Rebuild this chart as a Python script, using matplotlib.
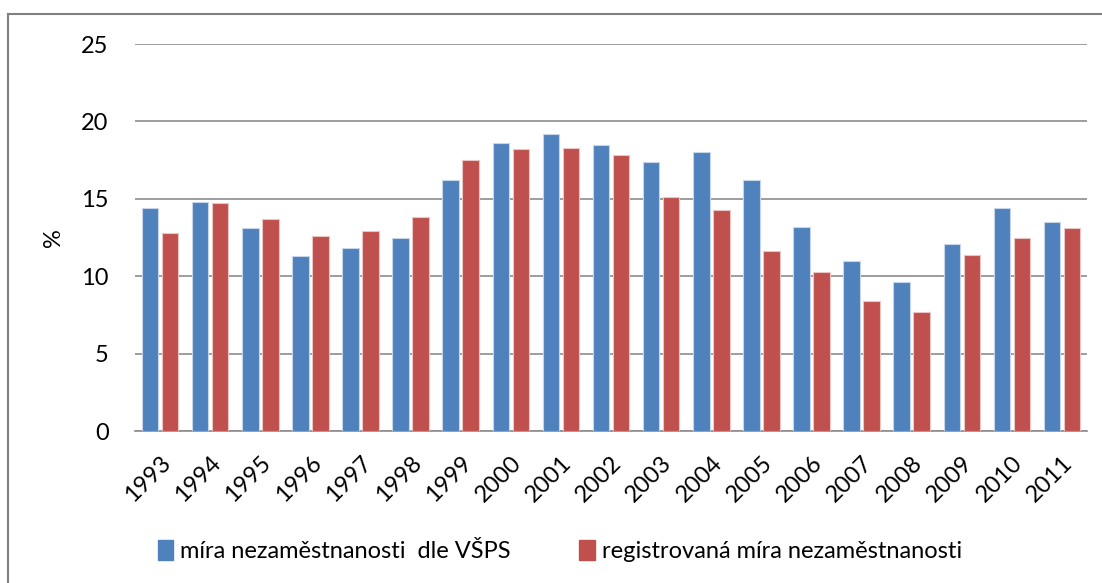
import numpy as np
import matplotlib
matplotlib.use("Agg")
import matplotlib.pyplot as plt
from matplotlib.patches import Patch
from matplotlib.lines import Line2D

years = ["1993", "1994", "1995", "1996", "1997", "1998", "1999", "2000", "2001", "2002",
         "2003", "2004", "2005", "2006", "2007", "2008", "2009", "2010", "2011"]
vsps = [14.4, 14.8, 13.1, 11.3, 11.8, 12.5, 16.2, 18.6, 19.2, 18.5,
        17.4, 18.0, 16.2, 13.2, 11.0, 9.6, 12.1, 14.4, 13.5]
registered = [12.8, 14.7, 13.7, 12.6, 12.9, 13.8, 17.5, 18.2, 18.3, 17.8,
              15.1, 14.3, 11.6, 10.3, 8.4, 7.7, 11.4, 12.5, 13.1]

label_vsps = "míra nezaměstnanosti  dle VŠPS"
label_reg = "registrovaná míra nezaměstnanosti"

blue = "#4F81BD"
red = "#C0504D"
grid_col = "#8C8C8C"

plt.rcParams['font.family'] = ['Lato', 'DejaVu Sans']

fig = plt.figure(figsize=(11.02, 5.83), dpi=100)
ax = fig.add_axes([0.1225, 0.2607, 0.864, 0.6638])

x = np.arange(len(years))
w = 0.33
ax.bar(x - 0.2, vsps, w, color=blue, edgecolor="#C6D5EA", linewidth=0.8, zorder=3)
ax.bar(x + 0.2, registered, w, color=red, edgecolor="#EBC4C3", linewidth=0.8, zorder=3)

ax.set_xlim(-0.5, len(years) - 0.5)
ax.set_ylim(0, 25)
ax.set_yticks([0, 5, 10, 15, 20, 25])
ax.yaxis.grid(True, color=grid_col, linewidth=1.2, zorder=0)
ax.set_axisbelow(True)
for s in ["top", "right", "left"]:
    ax.spines[s].set_visible(False)
ax.spines["bottom"].set_color(grid_col)
ax.spines["bottom"].set_linewidth(1.2)
ax.tick_params(axis="both", length=0, labelsize=17)
ax.tick_params(axis="y", pad=19)
ax.set_xticks(x)
ax.set_xticklabels(years, rotation=45, ha="right", rotation_mode="anchor")
ax.tick_params(axis="x", pad=15, labelsize=17)
ax.set_ylabel("%", fontsize=17, labelpad=12)

# outer frame (top and left edges only visible)
fig.add_artist(Line2D([8 / 1102, 1], [1 - 14 / 583, 1 - 14 / 583], color="#808080", linewidth=1.5))
fig.add_artist(Line2D([8 / 1102, 8 / 1102], [0, 1 - 14 / 583], color="#808080", linewidth=1.5))

handles = [Patch(color=blue), Patch(color=red)]
fig.legend(handles, [label_vsps, label_reg], loc="center", bbox_to_anchor=(0.508, 0.055),
           ncol=2, frameon=False, fontsize=17, handlelength=0.65, handleheight=0.9,
           handletextpad=0.3, columnspacing=2.9)

fig.savefig("out.png", dpi=100)
